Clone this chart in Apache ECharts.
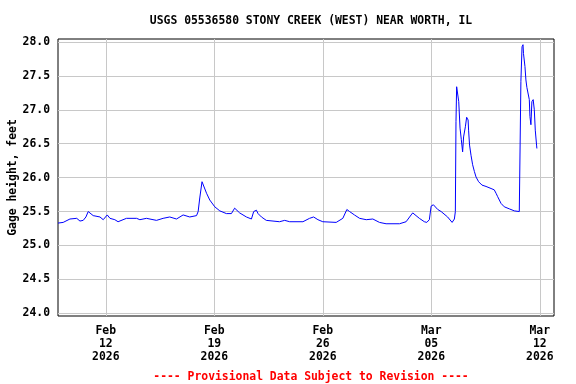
<!DOCTYPE html>
<html>
<head>
<meta charset="utf-8">
<script src="https://cdn.jsdelivr.net/npm/echarts@6/dist/echarts.min.js"></script>
<style>
html,body{margin:0;padding:0;background:#fff;}
#chart{width:576px;height:384px;}
</style>
</head>
<body>
<div id="chart"></div>
<script>
// ---- Data (local station time) ----
const chartTitle = 'USGS 05536580 STONY CREEK (WEST) NEAR WORTH, IL';
const footerText = '---- Provisional Data Subject to Revision ----';
const yAxisTitle = 'Gage height, feet';

const times = [
  '2026-02-08 22:00','2026-02-09 06:00','2026-02-09 16:30','2026-02-10 03:00','2026-02-10 08:00',
  '2026-02-10 13:00','2026-02-10 17:15','2026-02-10 20:45','2026-02-10 23:30','2026-02-11 04:30',
  '2026-02-11 15:00','2026-02-11 20:00','2026-02-12 02:15','2026-02-12 06:30','2026-02-12 14:00',
  '2026-02-12 19:00','2026-02-13 08:00','2026-02-13 23:45','2026-02-14 04:45','2026-02-14 15:00',
  '2026-02-15 06:30','2026-02-15 16:45','2026-02-16 03:00','2026-02-16 13:30','2026-02-16 23:45',
  '2026-02-17 10:00','2026-02-17 20:30','2026-02-17 23:00','2026-02-18 01:30','2026-02-18 05:00',
  '2026-02-18 07:45','2026-02-18 12:00','2026-02-18 17:00','2026-02-19 00:45','2026-02-19 08:30',
  '2026-02-19 18:45','2026-02-20 02:30','2026-02-20 07:30','2026-02-20 15:15','2026-02-21 01:45',
  '2026-02-21 09:30','2026-02-21 13:00','2026-02-21 17:15','2026-02-21 19:45','2026-02-22 01:00',
  '2026-02-22 08:30','2026-02-23 05:00','2026-02-23 13:00','2026-02-23 20:45','2026-02-24 17:15',
  '2026-02-25 03:30','2026-02-25 09:45','2026-02-25 16:30','2026-02-26 00:00','2026-02-26 20:45',
  '2026-02-27 07:00','2026-02-27 13:15','2026-02-27 17:30','2026-02-28 01:00','2026-02-28 09:00',
  '2026-02-28 19:15','2026-03-01 05:30','2026-03-01 15:45','2026-03-02 02:00','2026-03-02 22:45',
  '2026-03-03 09:00','2026-03-03 16:45','2026-03-03 19:15','2026-03-04 05:30','2026-03-04 13:15',
  '2026-03-04 17:00','2026-03-04 21:00','2026-03-04 23:45','2026-03-05 03:15','2026-03-05 10:00',
  '2026-03-05 15:15','2026-03-05 17:45','2026-03-06 01:15','2026-03-06 08:15','2026-03-06 11:45',
  '2026-03-06 13:15','2026-03-06 14:15','2026-03-06 15:15','2026-03-06 17:30','2026-03-06 18:30',
  '2026-03-06 20:30','2026-03-06 22:30','2026-03-07 00:30','2026-03-07 02:00','2026-03-07 04:45',
  '2026-03-07 06:45','2026-03-07 09:00','2026-03-07 09:45','2026-03-07 11:15','2026-03-07 13:30',
  '2026-03-07 16:00','2026-03-07 18:45','2026-03-07 21:15','2026-03-08 01:15','2026-03-08 06:30',
  '2026-03-08 12:45','2026-03-08 20:30','2026-03-09 01:30','2026-03-09 04:15','2026-03-09 06:45',
  '2026-03-09 12:00','2026-03-09 17:00','2026-03-10 00:45','2026-03-10 08:30','2026-03-10 16:15',
  '2026-03-10 17:15','2026-03-10 18:45','2026-03-10 20:30','2026-03-10 22:00','2026-03-10 22:45',
  '2026-03-11 01:00','2026-03-11 02:30','2026-03-11 04:00','2026-03-11 06:00','2026-03-11 07:45',
  '2026-03-11 08:45','2026-03-11 10:15','2026-03-11 11:45','2026-03-11 13:45','2026-03-11 15:30',
  '2026-03-11 17:00','2026-03-11 19:00','2026-03-11 19:30'
];

const gageHeight = [
  25.33,25.34,25.39,25.40,25.36,
  25.37,25.42,25.50,25.49,25.44,
  25.42,25.38,25.45,25.40,25.38,
  25.35,25.40,25.40,25.38,25.40,
  25.37,25.40,25.42,25.39,25.45,
  25.42,25.44,25.50,25.70,25.94,
  25.92,25.77,25.67,25.57,25.51,
  25.47,25.47,25.55,25.48,25.42,
  25.39,25.50,25.52,25.47,25.42,
  25.37,25.35,25.37,25.35,25.35,
  25.40,25.42,25.38,25.35,25.34,
  25.40,25.53,25.50,25.45,25.40,
  25.38,25.39,25.34,25.32,25.32,
  25.35,25.45,25.48,25.40,25.35,
  25.34,25.38,25.58,25.60,25.53,
  25.50,25.52,25.42,25.34,25.39,
  25.50,26.83,27.34,27.32,27.12,
  26.73,26.56,26.38,26.60,26.75,
  26.89,26.85,26.70,26.48,26.33,
  26.19,26.09,26.01,25.94,25.89,
  25.87,25.84,25.82,25.77,25.72,
  25.62,25.57,25.54,25.51,25.50,
  25.48,27.42,27.93,27.96,27.83,
  27.64,27.44,27.33,27.32,27.15,
  26.90,26.78,27.12,27.15,27.00,
  26.70,26.48,26.43
];

const xTickDates = ['2026-02-12','2026-02-19','2026-02-26','2026-03-05','2026-03-12'];
const yTickValues = [24.0,24.5,25.0,25.5,26.0,26.5,27.0,27.5,28.0];
const xRange = ['2026-02-08 22:00','2026-03-12 22:00'];
const yRange = [23.96, 28.044];

// ---- helpers ----
function toUTC(s){
  const m = s.match(/(\d+)-(\d+)-(\d+)(?:\s+(\d+):(\d+))?/);
  return Date.UTC(+m[1], +m[2]-1, +m[3], m[4]?+m[4]:0, m[5]?+m[5]:0);
}
const MONTHS = ['Jan','Feb','Mar','Apr','May','Jun','Jul','Aug','Sep','Oct','Nov','Dec'];
const seriesData = times.map((t,i)=>[toUTC(t), gageHeight[i]]);
const xTicks = xTickDates.map(toUTC);

const FONT = '"DejaVu Sans Mono", "Liberation Mono", monospace';

const chart = echarts.init(document.getElementById('chart'), null, {renderer:'canvas'});
chart.setOption({
  animation:false,
  backgroundColor:'#ffffff',
  title:[
    {text:chartTitle, left:306, top:11, textAlign:'center',
     textStyle:{fontFamily:FONT, fontSize:11.4, fontWeight:'bold', color:'#000'}},
    {text:footerText, left:306, top:367, textAlign:'center',
     textStyle:{fontFamily:FONT, fontSize:11.4, fontWeight:'bold', color:'#ff0000'}}
  ],
  grid:{left:58, right:22, top:39, bottom:68, containLabel:false, outerBoundsMode:'none',
        show:true, borderColor:'#000', borderWidth:1, backgroundColor:'transparent'},
  xAxis:{
    type:'value',
    min:toUTC(xRange[0]), max:toUTC(xRange[1]),
    axisLine:{show:false},
    axisTick:{show:false, customValues:xTicks},
    splitLine:{show:true, lineStyle:{color:'#c8c8c8', width:1}},
    axisLabel:{
      customValues:xTicks,
      margin:9,
      fontFamily:FONT, fontSize:11.4, fontWeight:'bold', color:'#000', lineHeight:13,
      formatter:function(v){
        const d = new Date(v);
        const day = String(d.getUTCDate()).padStart(2,'0');
        return MONTHS[d.getUTCMonth()] + '\n' + day + '\n' + d.getUTCFullYear();
      }
    }
  },
  yAxis:{
    type:'value',
    min:yRange[0], max:yRange[1],
    name:yAxisTitle, nameLocation:'middle', nameGap:39, nameRotate:90, nameMoveOverlap:false,
    nameTextStyle:{fontFamily:FONT, fontSize:11.4, fontWeight:'bold', color:'#000'},
    axisLine:{show:false},
    axisTick:{show:false, customValues:yTickValues},
    splitLine:{show:true, lineStyle:{color:'#c8c8c8', width:1}},
    axisLabel:{
      customValues:yTickValues,
      margin:8,
      fontFamily:FONT, fontSize:11.4, fontWeight:'bold', color:'#000',
      formatter:function(v){ return v.toFixed(1); }
    }
  },
  series:[{
    type:'line',
    data:seriesData,
    showSymbol:false,
    lineStyle:{color:'#0000ff', width:1},
    clip:true
  }]
});
</script>
</body>
</html>
